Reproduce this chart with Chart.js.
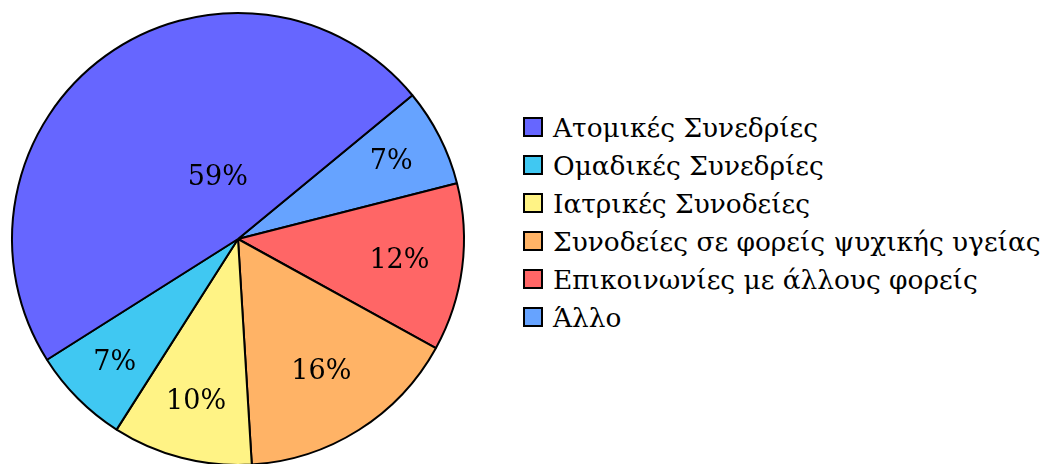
<!DOCTYPE html>
<html>
<head>
<meta charset="utf-8">
<script src="https://cdn.jsdelivr.net/npm/chart.js@4"></script>
<style>
  body { margin: 0; width: 1050px; height: 464px; overflow: hidden; background: #fff; position: relative; }
  #wrap { position: absolute; left: 0; top: 0; width: 476px; height: 478px; }
  #legend { position: absolute; left: 523px; top: 108px; font-family: "DejaVu Serif", serif; font-size: 26.4px; color: #000; }
  .item { display: flex; align-items: center; height: 38px; white-space: nowrap; }
  .box { width: 16px; height: 16px; border: 2px solid #000; margin-right: 10px; }
</style>
</head>
<body>
<div id="wrap"><canvas id="pie"></canvas></div>
<div id="legend"></div>
<script>
// data, in legend order
const categories = [
  'Ατομικές Συνεδρίες',
  'Ομαδικές Συνεδρίες',
  'Ιατρικές Συνοδείες',
  'Συνοδείες σε φορείς ψυχικής υγείας',
  'Επικοινωνίες με άλλους φορείς',
  'Άλλο'
];
const shares = [48, 7, 10, 16, 12, 7];           // slice sizes
const pctLabels = ['59%', '7%', '10%', '16%', '12%', '7%']; // text printed on the slices
const colors = ['#6666ff', '#40c8f2', '#fff385', '#ffb366', '#ff6666', '#66a3ff'];

// where the text sits inside each slice (fraction of radius, angle shift in deg)
const labelRadius = [0.29, 0.77, 0.74, 0.69, 0.72, 0.76];
const labelShift = [18, 0, 0, 0, 0, 0];

// the picture runs counter-clockwise, so feed the chart the reversed lists
const n = categories.length;
const rev = (a) => a.slice().reverse();

const sliceLabels = {
  id: 'sliceLabels',
  afterDatasetsDraw(chart) {
    const ctx = chart.ctx;
    const arcs = chart.getDatasetMeta(0).data;
    ctx.save();
    ctx.font = '27px "DejaVu Serif"';
    ctx.fillStyle = '#000';
    ctx.textAlign = 'center';
    ctx.textBaseline = 'middle';
    arcs.forEach((arc, i) => {
      const k = n - 1 - i;
      const p = arc.getProps(['x', 'y', 'startAngle', 'endAngle', 'outerRadius'], true);
      const mid = (p.startAngle + p.endAngle) / 2 + labelShift[k] * Math.PI / 180;
      const r = p.outerRadius * labelRadius[k];
      ctx.fillText(pctLabels[k], p.x + Math.cos(mid) * r, p.y + Math.sin(mid) * r + 1);
    });
    ctx.restore();
  }
};

new Chart(document.getElementById('pie'), {
  type: 'pie',
  data: {
    labels: rev(categories),
    datasets: [{
      data: rev(shares),
      backgroundColor: rev(colors),
      borderColor: '#000',
      borderWidth: 2
    }]
  },
  options: {
    responsive: true,
    maintainAspectRatio: false,
    animation: false,
    rotation: 50.5,
    layout: { padding: { left: 11, right: 11, top: 12, bottom: 12 } },
    plugins: { legend: { display: false }, tooltip: { enabled: false } }
  },
  plugins: [sliceLabels]
});

// legend drawn as html, same order as the original
const legend = document.getElementById('legend');
categories.forEach((c, i) => {
  const row = document.createElement('div');
  row.className = 'item';
  const box = document.createElement('span');
  box.className = 'box';
  box.style.background = colors[i];
  row.appendChild(box);
  row.appendChild(document.createTextNode(c));
  legend.appendChild(row);
});
</script>
</body>
</html>
